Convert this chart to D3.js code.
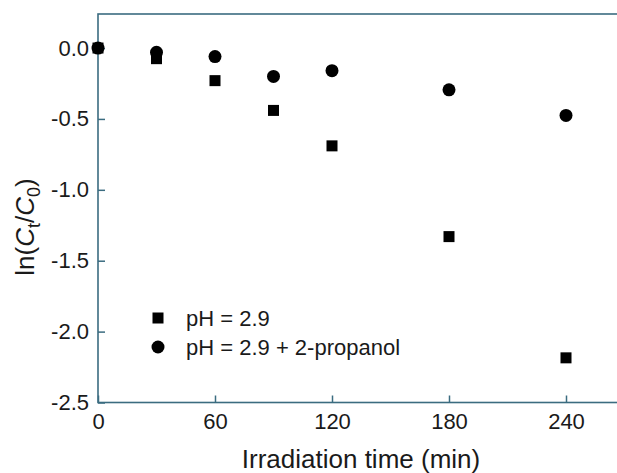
<!DOCTYPE html>
<html>
<head>
<meta charset="utf-8">
<script src="https://cdn.jsdelivr.net/npm/d3@7/dist/d3.min.js"></script>
<style>
  html, body { margin: 0; padding: 0; background: #fff; }
  svg { display: block; font-family: "Liberation Sans", Arial, sans-serif; }
</style>
</head>
<body>
<svg id="chart" width="617" height="473"></svg>
<script>
// Irradiation times (min)
const times = [0, 30, 60, 90, 120, 180, 240];
// ln(Ct/C0) at pH 2.9
const lnPH = [0.0, -0.075, -0.23, -0.44, -0.69, -1.33, -2.185];
// ln(Ct/C0) at pH 2.9 with 2-propanol
const lnPropanol = [0.0, -0.03, -0.06, -0.2, -0.16, -0.295, -0.475];

const xTicks = [0, 60, 120, 180, 240];
const yTicks = [0.0, -0.5, -1.0, -1.5, -2.0, -2.5];
const seriesNames = ["pH = 2.9", "pH = 2.9 + 2-propanol"];

const svg = d3.select("#chart");
const axisColor = "#3b6c80";

const mLeft = 98, mRight = 624.5, mTop = 14, mBottom = 402.5;
const x = d3.scaleLinear().domain([0, 270]).range([mLeft, mRight]);
const y = d3.scaleLinear().domain([-2.5, 0.24]).range([mBottom, mTop]);

// frame
svg.append("rect")
  .attr("x", mLeft).attr("y", mTop)
  .attr("width", mRight - mLeft).attr("height", mBottom - mTop)
  .attr("fill", "none").attr("stroke", axisColor).attr("stroke-width", 1.6);

// x axis (ticks pointing inward)
const xAxis = svg.append("g")
  .attr("transform", `translate(0,${mBottom})`)
  .call(d3.axisBottom(x).tickValues(xTicks).tickSizeInner(-7).tickSizeOuter(0).tickPadding(11).tickFormat(d3.format("d")));
xAxis.select(".domain").remove();
xAxis.selectAll(".tick line").attr("stroke", axisColor).attr("stroke-width", 1.5);
xAxis.selectAll(".tick text").attr("fill", "#1a1a1a").attr("font-size", 22);

// y axis (ticks pointing inward)
const yAxis = svg.append("g")
  .attr("transform", `translate(${mLeft},0)`)
  .call(d3.axisLeft(y).tickValues(yTicks).tickSizeInner(-7).tickSizeOuter(0).tickPadding(9).tickFormat(d3.format(".1f")));
yAxis.select(".domain").remove();
yAxis.selectAll(".tick line").attr("stroke", axisColor).attr("stroke-width", 1.5);
yAxis.selectAll(".tick text").attr("fill", "#1a1a1a").attr("font-size", 22)
  .text(d => d3.format(".1f")(d).replace("−", "-"));

// axis titles
svg.append("text")
  .attr("x", 361).attr("y", 468)
  .attr("text-anchor", "middle")
  .attr("font-size", 26).attr("fill", "#1a1a1a")
  .text("Irradiation time (min)");

const yTitle = svg.append("text")
  .attr("transform", "translate(34,227) rotate(-90)")
  .attr("text-anchor", "middle")
  .attr("font-size", 26).attr("fill", "#1a1a1a");
yTitle.append("tspan").text("ln(");
yTitle.append("tspan").attr("font-style", "italic").text("C");
yTitle.append("tspan").attr("font-size", 18).attr("dy", 6).text("t");
yTitle.append("tspan").attr("dy", -6).text("/");
yTitle.append("tspan").attr("font-style", "italic").text("C");
yTitle.append("tspan").attr("font-size", 18).attr("dy", 6).text("0");
yTitle.append("tspan").attr("dy", -6).text(")");

// data markers
const sq = 11, rad = 6.5;
const plot = svg.append("g");
plot.selectAll("rect.sq")
  .data(times.map((t, i) => ({ t, v: lnPH[i] })))
  .join("rect")
  .attr("class", "sq")
  .attr("x", d => x(d.t) - sq / 2).attr("y", d => y(d.v) - sq / 2)
  .attr("width", sq).attr("height", sq)
  .attr("fill", "#000");
plot.selectAll("circle.ci")
  .data(times.map((t, i) => ({ t, v: lnPropanol[i] })))
  .join("circle")
  .attr("class", "ci")
  .attr("cx", d => x(d.t)).attr("cy", d => y(d.v)).attr("r", rad)
  .attr("fill", "#000");

// legend
const legend = svg.append("g");
legend.append("rect").attr("x", 158 - sq / 2).attr("y", 318 - sq / 2).attr("width", sq).attr("height", sq).attr("fill", "#000");
legend.append("circle").attr("cx", 158).attr("cy", 347).attr("r", rad).attr("fill", "#000");
legend.selectAll("text.lg")
  .data(seriesNames)
  .join("text")
  .attr("class", "lg")
  .attr("x", 186).attr("y", (d, i) => 326 + i * 29)
  .attr("font-size", 22).attr("fill", "#1a1a1a")
  .text(d => d);
</script>
</body>
</html>
